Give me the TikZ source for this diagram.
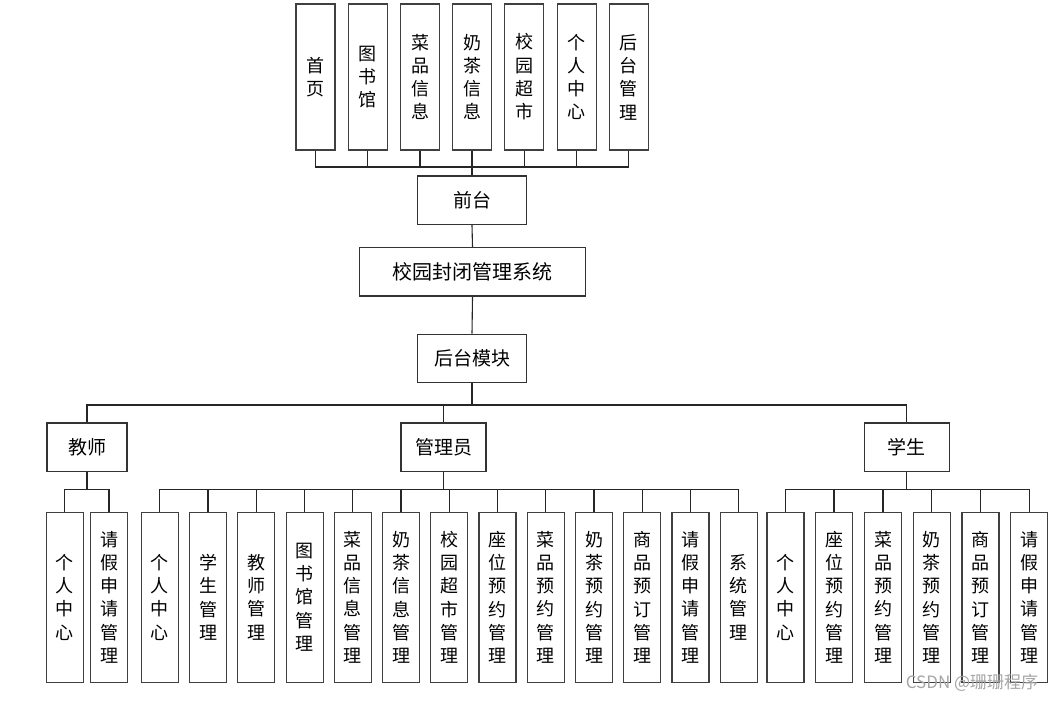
\documentclass[tikz,border=0pt]{standalone}
\usepackage{fontspec}
\usepackage{tikz}
\usepackage{xcolor}
\newfontfamily\cjk{Noto Sans CJK SC}

\begin{document}
\begin{tikzpicture}[x=1pt,y=-1pt,
  every node/.style={font=\cjk},
  tbox/.style={draw=black!75,line width=1.2pt,fill=white,inner sep=0pt,minimum width=39pt,minimum height=146pt,align=center,font=\cjk\fontsize{18}{23.3}\selectfont},
  vbox/.style={draw=black!75,line width=1.2pt,fill=white,inner sep=0pt,minimum width=37pt,minimum height=170pt,align=center,font=\cjk\fontsize{18}{23.3}\selectfont},
  hbox/.style={draw=black!80,line width=1.2pt,fill=white,inner sep=0pt,minimum height=48.5pt,font=\cjk\fontsize{19}{22}\selectfont},
  link/.style={draw=black!85,line width=1.1pt}]
\useasboundingbox (0,0) rectangle (1055,701);
% front end
\node[tbox] (t1) at (315.5,77) {首\\页};
\node[tbox] (t2) at (367.8,77) {图\\书\\馆};
\node[tbox] (t3) at (420,77) {菜\\品\\信\\息};
\node[tbox] (t4) at (472,77) {奶\\茶\\信\\息};
\node[tbox] (t5) at (524.3,77) {校\\园\\超\\市};
\node[tbox] (t6) at (576.7,77) {个\\人\\中\\心};
\node[tbox] (t7) at (628.7,77) {后\\台\\管\\理};
\node[hbox,minimum width=109pt] (qt) at (472,200.3) {前台};
\node[hbox,minimum width=226pt,font=\cjk\fontsize{20}{22}\selectfont] (sys) at (472.5,271.8) {校园封闭管理系统};
\node[hbox,minimum width=109pt] (ht) at (472,358.5) {后台模块};
% roles
\node[hbox,minimum width=80pt] (js) at (87,447.3) {教师};
\node[hbox,minimum width=85pt] (gly) at (443.5,447.3) {管理员};
\node[hbox,minimum width=85pt] (xs) at (906.8,447.3) {学生};
% teacher
\node[vbox] (j1) at (64.7,597.2) {个\\人\\中\\心};
\node[vbox] (j2) at (109,597.2) {请\\假\\申\\请\\管\\理};
% admin
\node[vbox] (g1) at (159.8,597.2) {个\\人\\中\\心};
\node[vbox] (g2) at (208,597.2) {学\\生\\管\\理};
\node[vbox] (g3) at (256.3,597.2) {教\\师\\管\\理};
\node[vbox] (g4) at (304.6,597.2) {图\\书\\馆\\管\\理};
\node[vbox] (g5) at (352.8,597.2) {菜\\品\\信\\息\\管\\理};
\node[vbox] (g6) at (401,597.2) {奶\\茶\\信\\息\\管\\理};
\node[vbox] (g7) at (449.2,597.2) {校\\园\\超\\市\\管\\理};
\node[vbox] (g8) at (497.5,597.2) {座\\位\\预\\约\\管\\理};
\node[vbox] (g9) at (545.8,597.2) {菜\\品\\预\\约\\管\\理};
\node[vbox] (g10) at (594,597.2) {奶\\茶\\预\\约\\管\\理};
\node[vbox] (g11) at (642.2,597.2) {商\\品\\预\\订\\管\\理};
\node[vbox] (g12) at (690.5,597.2) {请\\假\\申\\请\\管\\理};
\node[vbox] (g13) at (738.7,597.2) {系\\统\\管\\理};
% student
\node[vbox] (x1) at (785.5,597.2) {个\\人\\中\\心};
\node[vbox] (x2) at (834,597.2) {座\\位\\预\\约\\管\\理};
\node[vbox] (x3) at (883,597.2) {菜\\品\\预\\约\\管\\理};
\node[vbox] (x4) at (931.8,597.2) {奶\\茶\\预\\约\\管\\理};
\node[vbox] (x5) at (980.5,597.2) {商\\品\\预\\订\\管\\理};
\node[vbox] (x6) at (1029.3,597.2) {请\\假\\申\\请\\管\\理};
% bus points
\coordinate (busT) at (472,167);
\coordinate (busR) at (472,405);
\coordinate (busJ) at (87,489.7);
\coordinate (busG) at (443.5,489.7);
\coordinate (busX) at (906.8,489.7);
% connectors
\draw[link] (t1.south) |- (busT);
\draw[link] (t2.south) |- (busT);
\draw[link] (t3.south) |- (busT);
\draw[link] (t4.south) -- (busT);
\draw[link] (t5.south) |- (busT);
\draw[link] (t6.south) |- (busT);
\draw[link] (t7.south) |- (busT);
\draw[link] (busT) -- (qt.north);
\draw[link] (qt.south) -- (sys.north);
\draw[link] (sys.south) -- (ht.north);
\draw[link] (ht.south) -- (busR);
\draw[link] (busR) -| (js.north);
\draw[link] (busR) -| (gly.north);
\draw[link] (busR) -| (xs.north);
\draw[link] (js.south) -- (busJ);
\draw[link] (busJ) -| (j1.north);
\draw[link] (busJ) -| (j2.north);
\draw[link] (gly.south) -- (busG);
\draw[link] (busG) -| (g1.north);
\draw[link] (busG) -| (g2.north);
\draw[link] (busG) -| (g3.north);
\draw[link] (busG) -| (g4.north);
\draw[link] (busG) -| (g5.north);
\draw[link] (busG) -| (g6.north);
\draw[link] (busG) -| (g7.north);
\draw[link] (busG) -| (g8.north);
\draw[link] (busG) -| (g9.north);
\draw[link] (busG) -| (g10.north);
\draw[link] (busG) -| (g11.north);
\draw[link] (busG) -| (g12.north);
\draw[link] (busG) -| (g13.north);
\draw[link] (xs.south) -- (busX);
\draw[link] (busX) -| (x1.north);
\draw[link] (busX) -| (x2.north);
\draw[link] (busX) -| (x3.north);
\draw[link] (busX) -| (x4.north);
\draw[link] (busX) -| (x5.north);
\draw[link] (busX) -| (x6.north);
% watermark
\node[text=black!35,font=\cjk\fontsize{17}{19}\selectfont] (wm) at (972,683) {CSDN @珊珊程序};
\end{tikzpicture}
\end{document}
